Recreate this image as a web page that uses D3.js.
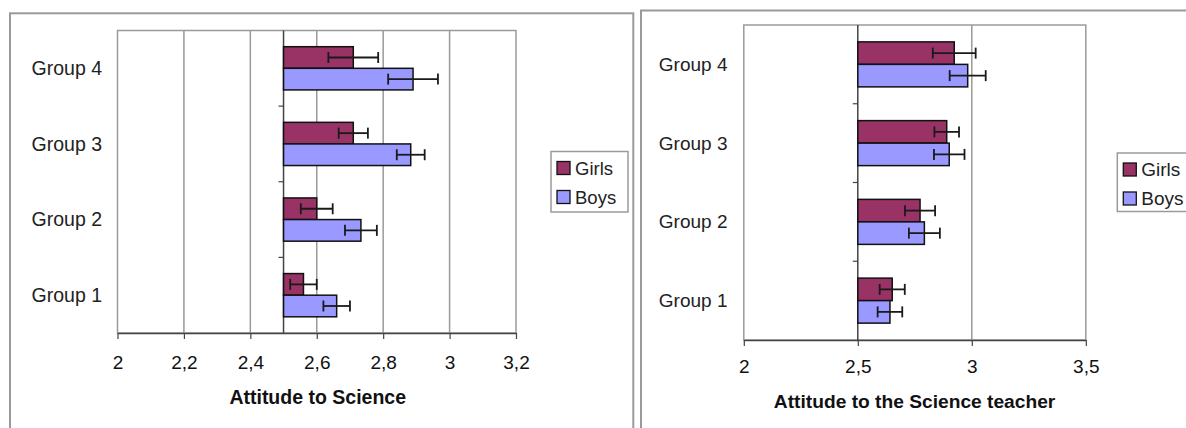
<!DOCTYPE html>
<html>
<head>
<meta charset="utf-8">
<script src="https://cdn.jsdelivr.net/npm/d3@7/dist/d3.min.js"></script>
<style>
  html, body { margin: 0; padding: 0; background: #fff; }
  svg { display: block; font-family: "Liberation Sans", Arial, sans-serif; }
</style>
</head>
<body>
<svg id="chart" width="1186" height="428"></svg>
<script>
// ---------- data ----------
const groups = ["Group 1", "Group 2", "Group 3", "Group 4"];
const seriesNames = ["Girls", "Boys"];

const scienceGirls    = [2.56, 2.60, 2.71, 2.71];
const scienceGirlsErr = [0.040, 0.048, 0.044, 0.075];
const scienceBoys     = [2.66, 2.733, 2.883, 2.89];
const scienceBoysErr  = [0.040, 0.048, 0.042, 0.075];

const teacherGirls    = [2.651, 2.773, 2.89, 2.923];
const teacherGirlsErr = [0.055, 0.066, 0.054, 0.094];
const teacherBoys     = [2.641, 2.792, 2.901, 2.982];
const teacherBoysErr  = [0.054, 0.068, 0.067, 0.079];

const scienceTicks = [2, 2.2, 2.4, 2.6, 2.8, 3, 3.2];
const scienceTickLabels = ["2", "2,2", "2,4", "2,6", "2,8", "3", "3,2"];
const teacherTicks = [2, 2.5, 3, 3.5];
const teacherTickLabels = ["2", "2,5", "3", "3,5"];

const scienceTitle = "Attitude to Science";
const teacherTitle = "Attitude to the Science teacher";

const colors = { Girls: "#993366", Boys: "#9999ff" };
const baseValue = 2.5;

// ---------- drawing ----------
const svg = d3.select("#chart");
svg.append("rect").attr("width", 1186).attr("height", 428).attr("fill", "#fff");

function drawChart(cfg) {
  const g = svg.append("g");

  // outer chart border
  g.append("rect")
    .attr("x", cfg.frame[0]).attr("y", cfg.frame[1])
    .attr("width", cfg.frame[2]).attr("height", cfg.frame[3])
    .attr("fill", "none").attr("stroke", "#9a9a9a").attr("stroke-width", 2);

  const x = d3.scaleLinear().domain(cfg.domain).range([cfg.left, cfg.right]);
  const y = d3.scaleBand().domain(groups.slice().reverse()).range([cfg.top, cfg.bottom])
    .paddingInner(0).paddingOuter(0);
  const bw = y.bandwidth();
  const barH = bw / 3.5;

  // plot area border (top, right, left)
  g.append("rect")
    .attr("x", cfg.left).attr("y", cfg.top)
    .attr("width", cfg.right - cfg.left).attr("height", cfg.bottom - cfg.top)
    .attr("fill", "none").attr("stroke", "#9a9a9a").attr("stroke-width", 1.5);

  // gridlines
  g.selectAll(".grid").data(cfg.ticks.filter(t => t !== baseValue && t !== cfg.domain[0] && t !== cfg.domain[1]))
    .enter().append("line")
    .attr("x1", d => x(d)).attr("x2", d => x(d))
    .attr("y1", cfg.top).attr("y2", cfg.bottom)
    .attr("stroke", "#9a9a9a").attr("stroke-width", 1.5);

  // x axis
  const xAxis = d3.axisBottom(x).tickValues(cfg.ticks)
    .tickFormat((d, i) => cfg.tickLabels[i]).tickSize(6).tickSizeOuter(0);
  const ax = g.append("g").attr("transform", `translate(0,${cfg.bottom})`).call(xAxis);
  ax.select(".domain").attr("stroke", "#444").attr("stroke-width", 1.5);
  ax.selectAll(".tick line").attr("stroke", "#444").attr("stroke-width", 1.2);
  ax.selectAll(".tick text")
    .attr("font-size", cfg.tickFont).attr("fill", "#111")
    .attr("y", cfg.tickBaseline - cfg.bottom).attr("dy", 0);

  // category axis at baseValue
  const cx = x(baseValue);
  g.append("line").attr("x1", cx).attr("x2", cx).attr("y1", cfg.top).attr("y2", cfg.bottom)
    .attr("stroke", "#444").attr("stroke-width", 1.5);
  const boundaries = groups.slice().reverse().slice(1).map(gr => y(gr));
  g.selectAll(".ctick").data(boundaries).enter().append("line")
    .attr("x1", cx - 5).attr("x2", cx).attr("y1", d => d).attr("y2", d => d)
    .attr("stroke", "#444").attr("stroke-width", 1.2);

  // group labels
  g.selectAll(".glabel").data(groups).enter().append("text")
    .attr("x", cfg.labelRight).attr("y", d => y(d) + bw / 2 + cfg.labelFont * 0.34)
    .attr("text-anchor", "end").attr("font-size", cfg.labelFont).attr("fill", "#222")
    .text(d => d);

  // bars
  const series = [
    { name: "Girls", values: cfg.girls, errs: cfg.girlsErr, offset: 0 },
    { name: "Boys", values: cfg.boys, errs: cfg.boysErr, offset: 1 }
  ];
  series.forEach(s => {
    const sg = g.append("g");
    sg.selectAll("rect").data(groups).enter().append("rect")
      .attr("x", x(baseValue))
      .attr("y", d => y(d) + 0.75 * barH + s.offset * barH)
      .attr("width", (d, i) => x(s.values[i]) - x(baseValue))
      .attr("height", barH)
      .attr("fill", colors[s.name]).attr("stroke", "#111").attr("stroke-width", 1.5);
    // error bars
    const eg = g.append("g").attr("stroke", "#1a1a1a").attr("stroke-width", 1.8);
    groups.forEach((d, i) => {
      const cy = y(d) + 0.75 * barH + s.offset * barH + barH / 2;
      const lo = x(s.values[i] - s.errs[i]), hi = x(s.values[i] + s.errs[i]);
      eg.append("line").attr("x1", lo).attr("x2", hi).attr("y1", cy).attr("y2", cy);
      eg.append("line").attr("x1", lo).attr("x2", lo).attr("y1", cy - 5.5).attr("y2", cy + 5.5);
      eg.append("line").attr("x1", hi).attr("x2", hi).attr("y1", cy - 5.5).attr("y2", cy + 5.5);
    });
  });

  // axis title
  g.append("text").attr("x", cfg.titleX).attr("y", cfg.titleY)
    .attr("text-anchor", "middle").attr("font-weight", "bold")
    .attr("font-size", cfg.titleFont).attr("fill", "#111").text(cfg.title);

  // legend
  const lg = g.append("g");
  lg.append("rect").attr("x", cfg.legend[0]).attr("y", cfg.legend[1])
    .attr("width", cfg.legend[2]).attr("height", cfg.legend[3])
    .attr("fill", "#fff").attr("stroke", "#9a9a9a").attr("stroke-width", 1.5);
  seriesNames.forEach((n, i) => {
    const sy = cfg.legend[1] + 10 + i * 29;
    lg.append("rect").attr("x", cfg.legend[0] + 6).attr("y", sy).attr("width", 13).attr("height", 13)
      .attr("fill", colors[n]).attr("stroke", "#111").attr("stroke-width", 1.3);
    lg.append("text").attr("x", cfg.legend[0] + 24).attr("y", sy + 13)
      .attr("font-size", cfg.legendFont).attr("fill", "#222").text(n);
  });
}

drawChart({
  frame: [10, 13.3, 623.3, 440],
  domain: [2, 3.2], left: 117.5, right: 516, top: 30.5, bottom: 333,
  ticks: scienceTicks, tickLabels: scienceTickLabels, tickFont: 19, tickBaseline: 369,
  labelRight: 102, labelFont: 19.5,
  girls: scienceGirls, girlsErr: scienceGirlsErr, boys: scienceBoys, boysErr: scienceBoysErr,
  title: scienceTitle, titleX: 317.7, titleY: 404, titleFont: 19.5,
  legend: [551, 151.5, 77, 60.5], legendFont: 18.5
});

drawChart({
  frame: [641, 10.5, 600, 440],
  domain: [2, 3.5], left: 743.8, right: 1085.8, top: 25, bottom: 340,
  ticks: teacherTicks, tickLabels: teacherTickLabels, tickFont: 19, tickBaseline: 373,
  labelRight: 727.5, labelFont: 19,
  girls: teacherGirls, girlsErr: teacherGirlsErr, boys: teacherBoys, boysErr: teacherBoysErr,
  title: teacherTitle, titleX: 914.6, titleY: 408, titleFont: 19.2,
  legend: [1117.3, 153, 90, 58.5], legendFont: 19
});
</script>
</body>
</html>
